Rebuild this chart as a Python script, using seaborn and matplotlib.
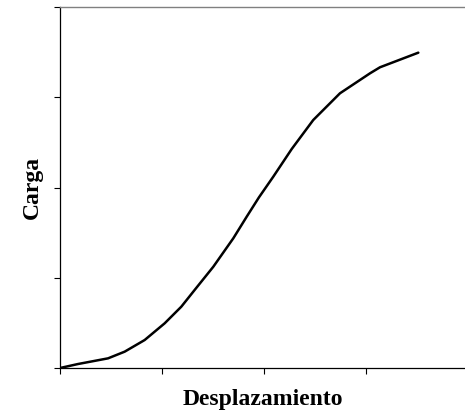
import numpy as np
import pandas as pd
import matplotlib
matplotlib.use("Agg")
import matplotlib.pyplot as plt
import seaborn as sns

# curva carga-desplazamiento (unidades de división)
desplazamiento = [0.0, 0.176, 0.471, 0.634, 0.830, 1.026, 1.189, 1.333, 1.503,
                  1.699, 1.830, 1.950, 2.091, 2.272, 2.483, 2.745, 3.039, 3.137, 3.513]
carga = [0.0, 0.044, 0.107, 0.181, 0.310, 0.495, 0.679, 0.883, 1.122,
         1.437, 1.676, 1.890, 2.120, 2.427, 2.748, 3.044, 3.265, 3.332, 3.494]

df = pd.DataFrame({"Desplazamiento": desplazamiento, "Carga": carga})

sns.set_style("white")
plt.rcParams["font.family"] = ["Liberation Serif", "DejaVu Serif"]

fig = plt.figure(figsize=(4.65, 4.16), dpi=100)
ax = fig.add_axes([60 / 465, 1 - 368 / 416, 1 - 60 / 465, (368 - 7) / 416])

sns.lineplot(data=df, x="Desplazamiento", y="Carga", ax=ax, color="black",
             linewidth=1.8, sort=False)

ax.set_xlim(0, 405 / 102)
ax.set_ylim(0, 4)
ax.set_xticks([0, 1, 2, 3])
ax.set_yticks([0, 1, 2, 3, 4])
ax.set_xticklabels([])
ax.set_yticklabels([])
ax.tick_params(axis="both", direction="out", length=4, width=0.8, color="black",
               bottom=True, left=True)

for s in ["left", "bottom"]:
    ax.spines[s].set_color("black")
    ax.spines[s].set_linewidth(0.9)
ax.spines["top"].set_color("#808080")
ax.spines["top"].set_linewidth(1.0)
ax.spines["right"].set_visible(False)

ax.set_xlabel("Desplazamiento", fontsize=17, fontweight="bold", color="black")
ax.set_ylabel("Carga", fontsize=17, fontweight="bold", color="black")
ax.xaxis.set_label_coords(0.5, -0.058)
ax.yaxis.set_label_coords(-0.042, 0.5)

fig.savefig("out.png", dpi=100)
